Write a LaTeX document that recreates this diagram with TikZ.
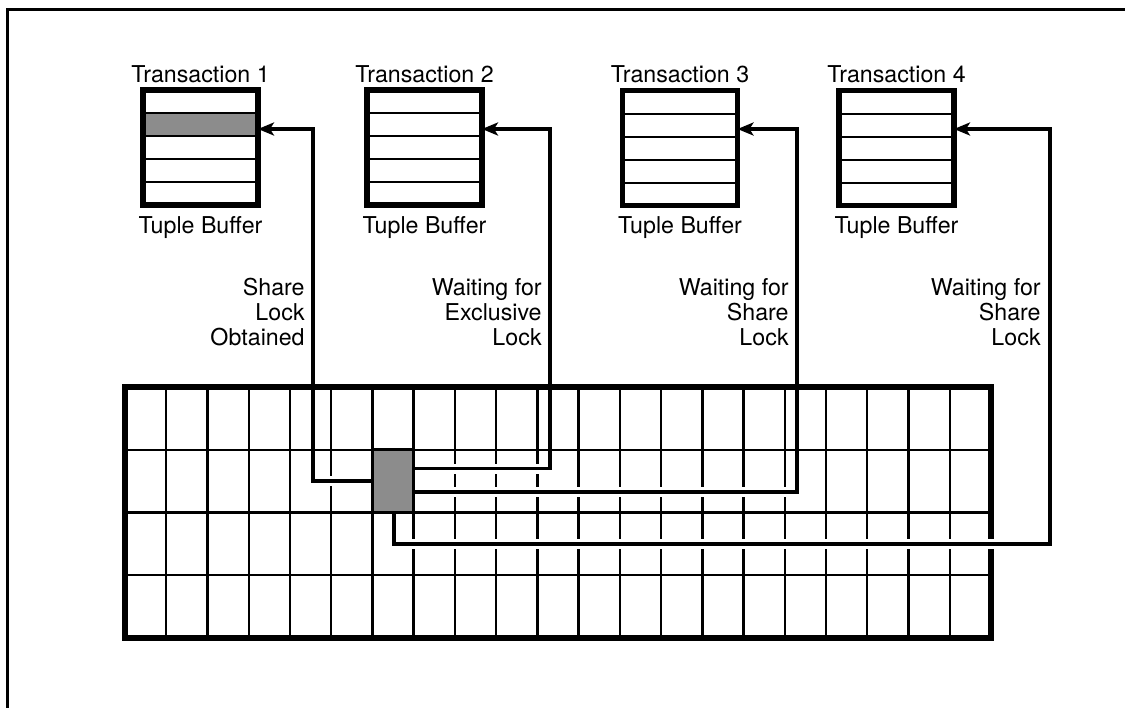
\documentclass[tikz,border=0pt]{standalone}
\usepackage{fontspec}
\setmainfont{TeX Gyre Heros}
\usetikzlibrary{arrows.meta,calc}
\begin{document}
\begin{tikzpicture}[x=0.5pt,y=-0.5pt,
  lbl/.style={font=\fontsize{11.6}{12.5}\selectfont, inner sep=0pt, align=right},
  buffer/.style={minimum width=57.5pt, minimum height=57.5pt, inner sep=0pt, outer sep=0pt},
  bufborder/.style={line width=2.75pt},
  rowline/.style={line width=1pt},
  gridline/.style={line width=1.2pt},
  conn/.style={line width=1.8pt},
  halo/.style={white, line width=5pt},
  tip/.style={-{Stealth[length=8pt,width=6.5pt,inset=2pt]}},
  shade/.style={fill=black!45}]
\useasboundingbox (0,0) rectangle (1125,708);

% outer frame (top and left only)
\draw[line width=1.5pt] (1125,9) -- (7,9) -- (7,708);

% tuple buffers
\node[buffer] (T1) at (200.5,147.5) {};
\node[buffer] (T2) at (424.5,147.5) {};
\node[buffer] (T3) at (680,148) {};
\node[buffer] (T4) at (896.5,148) {};
\fill[shade] ($(T1.north west)!0.2!(T1.south west)$) rectangle ($(T1.north east)!0.4!(T1.south east)$);
\foreach \b in {T1,T2,T3,T4}{
  \foreach \k in {1,...,4}
    \draw[rowline] ($(\b.north west)!\k/5!(\b.south west)$) -- ($(\b.north east)!\k/5!(\b.south east)$);
  \draw[bufborder] (\b.north west) rectangle (\b.south east);
}

% titles
\node[lbl, anchor=base] (t1) at (200.5,82) {Transaction 1};
\node[lbl, anchor=base] (t2) at (424.5,82) {Transaction 2};
\node[lbl, anchor=base] (t3) at (680,82) {Transaction 3};
\node[lbl, anchor=base] (t4) at (896.5,82) {Transaction 4};
\node[lbl, anchor=base] (u1) at (200.5,233) {Tuple Buffer};
\node[lbl, anchor=base] (u2) at (424.5,233) {Tuple Buffer};
\node[lbl, anchor=base] (u3) at (680,233) {Tuple Buffer};
\node[lbl, anchor=base] (u4) at (896.5,233) {Tuple Buffer};

% grid (lock table)
\node[minimum width=433pt, minimum height=125.5pt, inner sep=0pt, outer sep=0pt] (grid) at (558,512.5) {};
\node[minimum width=20.62pt, minimum height=31.375pt, inner sep=0pt, outer sep=0pt] (cell) at (393.05,481.1) {};
\foreach \i in {1,...,20}
  \draw[gridline] ($(grid.north west)!\i/21!(grid.north east)$) -- ($(grid.south west)!\i/21!(grid.south east)$);
\draw[line width=3pt] (grid.north west) rectangle (grid.south east);

% bend points
\coordinate (b1) at (313,129);
\coordinate (b2) at (550,129);
\coordinate (b3) at (797,129);
\coordinate (b4) at (1050,129);
\coordinate (c4) at (1050,544);

% white gaps where connectors cross grid lines
\begin{scope}
  \clip (115,393) rectangle (1005,632);
  \draw[halo] (cell.west) -| (b1);
  \draw[halo] ($(cell.north east)!0.3!(cell.south east)$) -| (b2);
  \draw[halo] ($(cell.north east)!0.67!(cell.south east)$) -| (b3);
  \draw[halo] ($(cell.south west)!0.53!(cell.south east)$) |- (c4);
\end{scope}

\foreach \j in {1,2,3}
  \draw[gridline] ($(grid.north west)!\j/4!(grid.south west)$) -- ($(grid.north east)!\j/4!(grid.south east)$);

% locked tuple
\draw[shade, line width=1.6pt] (cell.north west) rectangle (cell.south east);

% connectors
\draw[conn, tip] (cell.west) -| (b1) -- (T1.east |- b1);
\draw[conn, tip] ($(cell.north east)!0.3!(cell.south east)$) -| (b2) -- (T2.east |- b2);
\draw[conn, tip] ($(cell.north east)!0.67!(cell.south east)$) -| (b3) -- (T3.east |- b3);
\draw[conn, tip] ($(cell.south west)!0.53!(cell.south east)$) |- (c4) -- (b4) -- (T4.east |- b4);

% connector labels
\node[lbl, anchor=north east] (l1) at (305,278) {Share\\Lock\\Obtained};
\node[lbl, anchor=north east] (l2) at (542,278) {Waiting for\\Exclusive\\Lock};
\node[lbl, anchor=north east] (l3) at (789,278) {Waiting for\\Share\\Lock};
\node[lbl, anchor=north east] (l4) at (1041,278) {Waiting for\\Share\\Lock};
\end{tikzpicture}
\end{document}
